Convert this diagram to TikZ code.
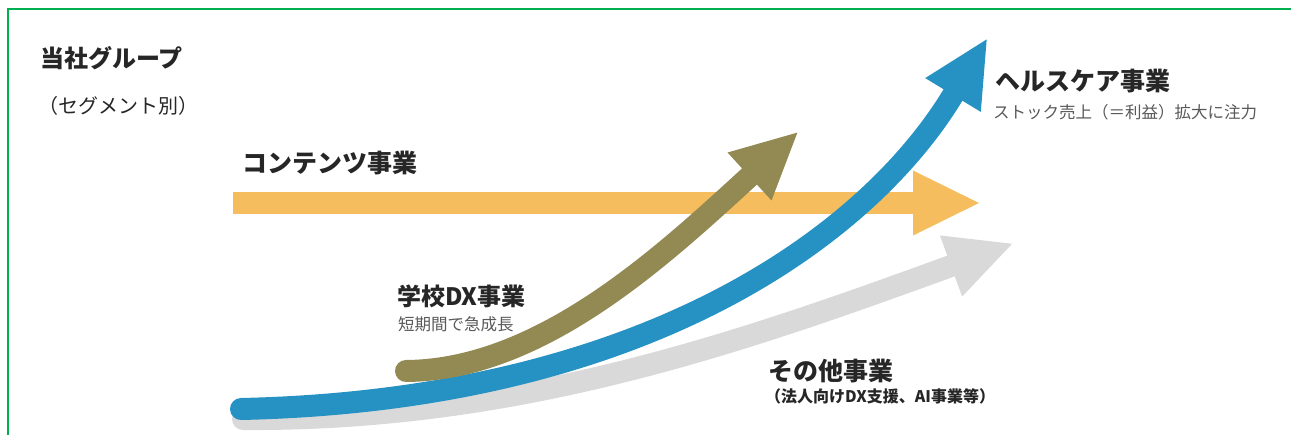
\documentclass[tikz,border=0pt]{standalone}
\usepackage{fontspec}
\setmainfont{Noto Sans CJK JP}
\usetikzlibrary{arrows.meta}
\definecolor{frameg}{RGB}{0,176,80}
\definecolor{orangec}{RGB}{245,189,94}
\definecolor{olivec}{RGB}{147,138,83}
\definecolor{bluec}{RGB}{37,146,195}
\definecolor{grayc}{RGB}{217,217,217}
\definecolor{txt}{RGB}{38,38,38}
\definecolor{subtxt}{RGB}{89,89,89}
\tikzset{
  shaft/.style={line width=22pt, line cap=round},
  lbl/.style={anchor=west, inner sep=0pt, text=txt, font=\bfseries\fontsize{25}{30}\selectfont},
  sublbl/.style={anchor=west, inner sep=0pt, text=subtxt, font=\fontsize{16.5}{20}\selectfont},
}
\begin{document}
\begin{tikzpicture}[x=1pt,y=-1pt]
\useasboundingbox (0,0) rectangle (1291,435);
% frame
\draw[frameg, line width=2pt] (8,435) -- (8,9.5) -- (1291,9.5);

% coordinates
\coordinate (gS) at (243,419);
\coordinate (gB) at (951,266);
\coordinate (oS) at (233,203);
\coordinate (oB) at (913,203);
\coordinate (bS) at (241,409);
\coordinate (bB) at (953,95);
\coordinate (vS) at (406,371);
\coordinate (vB) at (749.5,176.5);

% gray arrow
\draw[shaft, grayc] (gS) .. controls (520,421) and (744.2,341.2) .. (gB);
\fill[grayc] (939.9,235.4) -- (1012.1,243.8) -- (962.1,296.6) -- cycle;

% orange arrow
\draw[shaft, line cap=butt, orangec] (oS) -- (oB);
\fill[orangec] (913,170.5) -- (979,203) -- (913,235.5) -- cycle;

% blue arrow
\draw[shaft, bluec] (bS) .. controls (650,400) and (870,232) .. (bB);
\fill[bluec] (925.2,78.1) -- (986.7,39.4) -- (980.8,111.9) -- cycle;

% olive arrow
\draw[shaft, olivec] (vS) .. controls (540,370) and (661,257.6) .. (vB);
\fill[olivec] (727.5,152.5) -- (797.4,132.6) -- (771.5,200.5) -- cycle;

% texts
\node[lbl, font=\bfseries\fontsize{24}{28}\selectfont] (title) at (40,58) {当社グループ};
\node[anchor=west, inner sep=0pt, text=txt, font=\fontsize{20}{24}\selectfont] (seg) at (38,105.5) {（セグメント別）};
\node[lbl] (cont) at (242,163) {コンテンツ事業};
\node[lbl] (health) at (995,81.5) {ヘルスケア事業};
\node[sublbl] (healthsub) at (993,112.5) {ストック売上（＝利益）拡大に注力};
\node[lbl, font=\bfseries\fontsize{24}{28}\selectfont] (school) at (397,296.5) {学校DX事業};
\node[sublbl, font=\fontsize{16.5}{20}\selectfont] (schoolsub) at (398,324) {短期間で急成長};
\node[lbl] (other) at (768,371.5) {その他事業};
\node[anchor=west, inner sep=0pt, text=txt, font=\bfseries\fontsize{16}{19}\selectfont] (othersub) at (765,396) {（法人向けDX支援、AI事業等）};
\end{tikzpicture}
\end{document}
